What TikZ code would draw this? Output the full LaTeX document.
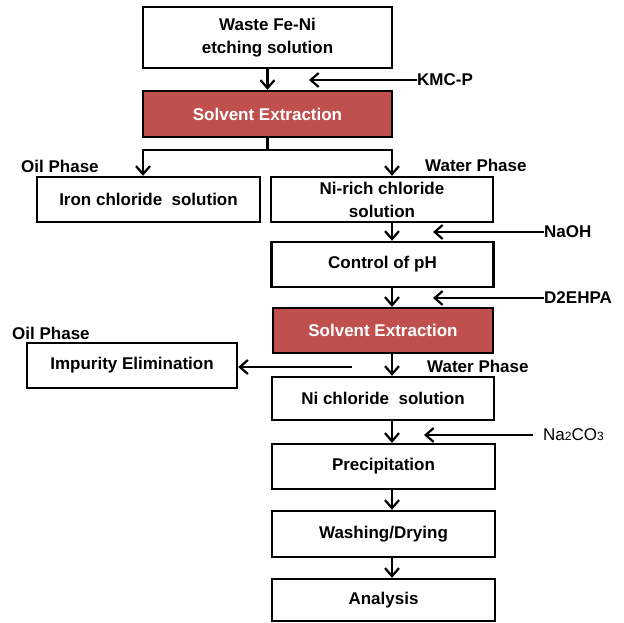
\documentclass[tikz,border=0pt]{standalone}
\usepackage{fontspec}
\setmainfont{Liberation Sans}
\usetikzlibrary{arrows.meta}
\definecolor{sxred}{HTML}{C0504D}
\begin{document}
\begin{tikzpicture}[x=1pt,y=-1pt,
  box/.style={draw=black, line width=2.4pt, fill=white, inner sep=0pt, align=center,
    font=\fontsize{17}{23}\selectfont\bfseries},
  redbox/.style={box, fill=sxred, text=white},
  lbl/.style={inner sep=0pt, font=\fontsize{17}{23}\selectfont\bfseries},
  arr/.style={line width=2.2pt, -{Straight Barb[length=8pt,width=14pt,line width=2.2pt]}},
  ln/.style={line width=2.2pt}]
\useasboundingbox (0,0) rectangle (624,623);

% main boxes
\node[box, minimum width=249pt, minimum height=61pt] (waste) at (267.5,37.5) {Waste Fe-Ni\\etching solution};
\node[redbox, minimum width=249pt, minimum height=46pt] (sx1) at (267.5,114) {Solvent Extraction};
\node[box, minimum width=223pt, minimum height=45pt] (iron) at (148.5,199.5) {Iron chloride\ \ solution};
\node[box, minimum width=222pt, minimum height=45pt] (nirich) at (382,199.5) {Ni-rich chloride\\solution};
\node[box, minimum width=222pt, minimum height=45pt] (ph) at (382.5,264.5) {Control of pH};
\node[redbox, minimum width=220pt, minimum height=45pt] (sx2) at (383,330.5) {Solvent Extraction};
\node[box, minimum width=210pt, minimum height=45pt] (imp) at (132,365.5) {Impurity Elimination};
\node[box, minimum width=222pt, minimum height=43pt] (nicl) at (383,398.5) {Ni chloride\ \ solution};
\node[box, minimum width=223pt, minimum height=45pt] (prec) at (383.5,466.5) {Precipitation};
\node[box, minimum width=223pt, minimum height=46pt] (wash) at (383.5,534) {Washing/Drying};
\node[box, minimum width=223pt, minimum height=42pt] (anal) at (383.5,600) {Analysis};

% labels
\node[lbl, anchor=west] (kmc) at (417,80) {KMC-P};
\node[lbl, anchor=west] (naoh) at (544,232) {NaOH};
\node[lbl, anchor=west] (d2) at (544,298) {D2EHPA};
\node[lbl, anchor=west, font=\fontsize{17}{23}\selectfont] (na2) at (543,435) {Na{\fontsize{12}{12}\selectfont 2}CO{\fontsize{12}{12}\selectfont 3}};
\node[lbl, anchor=west] (oil1) at (21,166) {Oil Phase};
\node[lbl, anchor=west] (wat1) at (425,165) {Water Phase};
\node[lbl, anchor=west] (oil2) at (12,333) {Oil Phase};
\node[lbl, anchor=west] (wat2) at (427,366) {Water Phase};

% coordinates
\coordinate (col) at (392,0);
\coordinate (sl) at (143,150);
\coordinate (sr) at (392,150);
\coordinate (imptail) at (352,367);

% connectors
\draw[arr] (waste.south) -- (sx1.north);
\draw[arr] (kmc.west) -- ++(-108,0);
\draw[arr] (sx1.south) -- (sx1.south |- sl) -- (sl) -- (sl |- iron.north);
\draw[arr] (sx1.south |- sr) -- (sr) -- (sr |- nirich.north);
\draw[arr] (nirich.south -| col) -- (ph.north -| col);
\draw[arr] (naoh.west) -- ++(-111,0);
\draw[arr] (ph.south -| col) -- (sx2.north -| col);
\draw[arr] (d2.west) -- ++(-111,0);
\draw[arr] (sx2.south -| col) -- (nicl.north -| col);
\draw[arr] (imptail) -- (imp.east |- imptail);
\draw[arr] (nicl.south -| col) -- (prec.north -| col);
\draw[arr] ([xshift=-10pt]na2.west) -- ++(-109,0);
\draw[arr] (prec.south -| col) -- (wash.north -| col);
\draw[arr] (wash.south -| col) -- (anal.north -| col);
\end{tikzpicture}
\end{document}
